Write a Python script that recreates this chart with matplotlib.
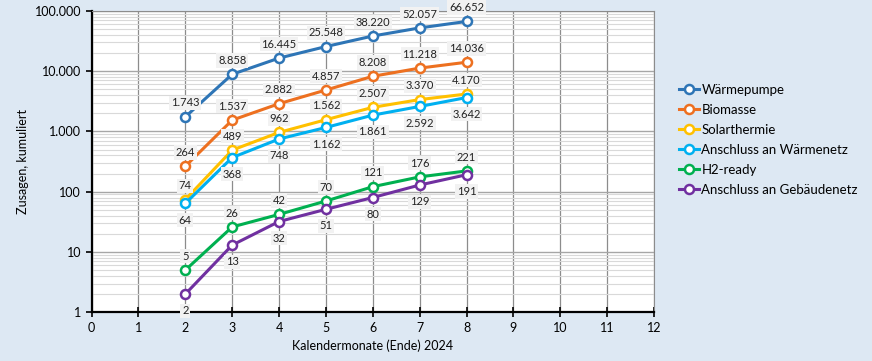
import numpy as np
import matplotlib
matplotlib.use("Agg")
import matplotlib.pyplot as plt
from matplotlib.ticker import FuncFormatter, LogLocator, NullFormatter

plt.rcParams['font.family'] = ['Lato', 'DejaVu Sans']

months = [2, 3, 4, 5, 6, 7, 8]
waermepumpe = [1743, 8858, 16445, 25548, 38220, 52057, 66652]
biomasse = [264, 1537, 2882, 4857, 8208, 11218, 14036]
solarthermie = [74, 489, 962, 1562, 2507, 3370, 4170]
waermenetz = [64, 368, 748, 1162, 1861, 2592, 3642]
h2_ready = [5, 26, 42, 70, 121, 176, 221]
gebaeudenetz = [2, 13, 32, 51, 80, 129, 191]

series = [
    ("Wärmepumpe", waermepumpe, "#2e75b6", "above"),
    ("Biomasse", biomasse, "#ed7020", "above"),
    ("Solarthermie", solarthermie, "#ffc000", "above"),
    ("Anschluss an Wärmenetz", waermenetz, "#00b0f0", "below"),
    ("H2-ready", h2_ready, "#00b050", "above"),
    ("Anschluss an Gebäudenetz", gebaeudenetz, "#7030a0", "below"),
]

bg = "#dde8f3"


def de_fmt(v, pos=None):
    return f"{int(round(v)):,}".replace(",", ".")


fig = plt.figure(figsize=(8.72, 3.61), dpi=100, facecolor=bg)
ax = fig.add_axes([0.105, 0.135, 0.645, 0.835])
ax.set_facecolor("white")

for name, vals, col, pos in series:
    ax.plot(months, vals, color=col, lw=2.2, marker="o", ms=6.5,
            mfc="white", mec=col, mew=1.8, label=name, zorder=3)
    dy = 10 if pos == "above" else -12
    for x, v in zip(months, vals):
        ax.annotate(de_fmt(v), (x, v), xytext=(0, dy), textcoords="offset points",
                    ha="center", va="center", fontsize=8, color="#222222", zorder=5,
                    bbox=dict(boxstyle="square,pad=0.15", fc="#f2f2f2", ec="none"))

ax.set_yscale("log")
ax.set_ylim(1, 100000)
ax.set_xlim(0, 12)
ax.set_xticks(range(0, 13))
ax.yaxis.set_major_locator(LogLocator(base=10, numticks=10))
ax.yaxis.set_minor_locator(LogLocator(base=10, subs=np.arange(2, 10), numticks=100))
ax.yaxis.set_major_formatter(FuncFormatter(de_fmt))
ax.yaxis.set_minor_formatter(NullFormatter())

ax.grid(True, which="major", axis="y", color="#a6a6a6", lw=1.0, zorder=0)
ax.grid(True, which="minor", axis="y", color="#d9d9d9", lw=0.8, zorder=0)
ax.grid(True, which="major", axis="x", color="#8c8c8c", lw=0.9, zorder=0)
ax.set_axisbelow(True)

ax.spines["left"].set_linewidth(1.6)
ax.spines["bottom"].set_linewidth(1.6)
ax.spines["right"].set_color("#8c8c8c")
ax.spines["top"].set_color("#8c8c8c")
ax.tick_params(axis="both", which="major", labelsize=9, length=4, width=1.2, direction="out")
ax.tick_params(axis="y", which="minor", length=0)
ax.tick_params(axis="x", which="major", direction="inout", length=7)

ax.set_xlabel("Kalendermonate (Ende) 2024", fontsize=9)
ax.set_ylabel("Zusagen, kumuliert", fontsize=9)

fig.legend(loc="upper left", bbox_to_anchor=(0.765, 0.8), frameon=False,
           fontsize=9.5, handlelength=1.5, handletextpad=0.2, labelspacing=0.6)

fig.savefig("out.png", dpi=100, facecolor=bg)
